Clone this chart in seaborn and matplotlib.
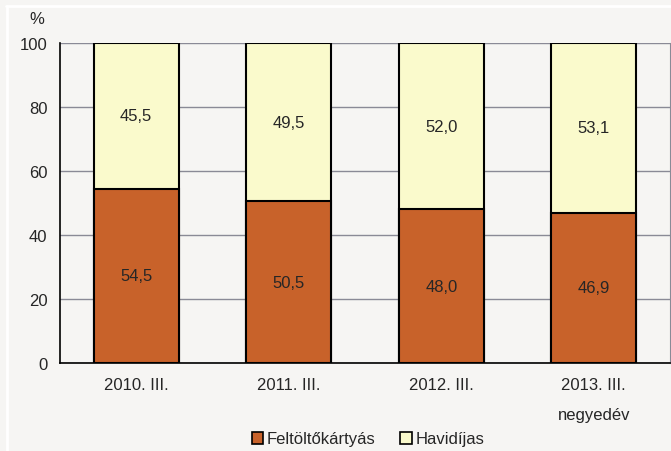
import matplotlib
matplotlib.use("Agg")
import matplotlib.pyplot as plt
import seaborn as sns
import pandas as pd
from matplotlib.patches import Patch

categories = ["2010. III.", "2011. III.", "2012. III.", "2013. III.\nnegyedév"]
feltolto = [54.5, 50.5, 48.0, 46.9]
havidijas = [45.5, 49.5, 52.0, 53.1]

df = pd.DataFrame({"cat": categories, "felt": feltolto, "havi": havidijas})
df["total"] = df["felt"] + df["havi"]

sns.set_style("white")
plt.rcParams["font.family"] = ["Liberation Sans", "DejaVu Sans"]

bg = "#f6f5f3"
fs = 12
fig = plt.figure(figsize=(6.71, 4.52), dpi=100, facecolor=bg)
ax = fig.add_axes([60 / 671, 1 - 364 / 452, 610 / 671, 320 / 452])
ax.set_facecolor(bg)

orange = "#c8622a"
yellow = "#fafacc"

# yellow = full stack, orange drawn over the bottom part
sns.barplot(data=df, x="cat", y="total", color=yellow, width=0.56,
            edgecolor="black", linewidth=1.5, saturation=1, ax=ax, zorder=2)
sns.barplot(data=df, x="cat", y="felt", color=orange, width=0.56,
            edgecolor="black", linewidth=1.5, saturation=1, ax=ax, zorder=3)

for i, row in df.iterrows():
    ax.text(i, row["felt"] / 2, f"{row['felt']:.1f}".replace(".", ","),
            ha="center", va="center", fontsize=fs, zorder=4)
    ax.text(i, row["felt"] + row["havi"] / 2, f"{row['havi']:.1f}".replace(".", ","),
            ha="center", va="center", fontsize=fs, zorder=4)

ax.set_ylim(0, 100)
ax.set_xlim(-0.5, 3.5)
ax.set_yticks(range(0, 101, 20))
ax.yaxis.grid(True, color="#8a8a96", linewidth=1, zorder=0)
ax.set_axisbelow(True)
ax.set_xlabel("")
ax.set_ylabel("")

ax.set_xticks(range(4))
ax.set_xticklabels(categories, fontsize=fs, linespacing=2.3, va="top")
ax.tick_params(axis="x", length=0, pad=10)
ax.set_xticks([0.5, 1.5, 2.5, 3.5], minor=True)
ax.tick_params(axis="x", which="minor", length=5, width=1, direction="out", color="black")
ax.tick_params(axis="y", length=5, width=1, direction="out", color="black", labelsize=fs, pad=4)

ax.spines["top"].set_visible(False)
ax.spines["right"].set_color("#8a8a96")
ax.spines["left"].set_color("black")
ax.spines["bottom"].set_color("black")
ax.spines["left"].set_linewidth(1.2)
ax.spines["bottom"].set_linewidth(1.2)

fig.text(37 / 671, 1 - 20 / 452, "%", fontsize=fs, ha="center", va="center")

# white frame lines
fig.add_artist(plt.Line2D([6 / 671, 1], [1 - 7 / 452, 1 - 7 / 452], color="white", linewidth=2,
                          transform=fig.transFigure))
fig.add_artist(plt.Line2D([7 / 671, 7 / 671], [0, 1 - 7 / 452], color="white", linewidth=2,
                          transform=fig.transFigure))

handles = [Patch(facecolor=orange, edgecolor="black", linewidth=1.2, label="Feltöltőkártyás"),
           Patch(facecolor=yellow, edgecolor="black", linewidth=1.2, label="Havidíjas")]
fig.legend(handles=handles, loc="center", bbox_to_anchor=(368 / 671, 1 - 440 / 452), ncol=2,
           frameon=False, fontsize=fs, handlelength=0.7, handleheight=0.7, handletextpad=0.2,
           columnspacing=1.5)

fig.savefig("out.png", dpi=100, facecolor=bg)
